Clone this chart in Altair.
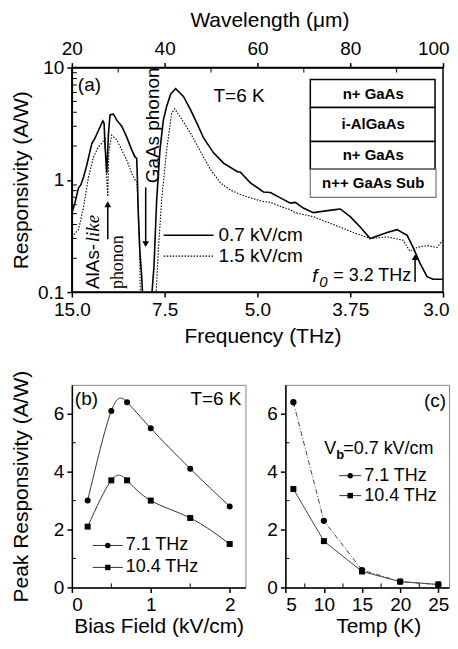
import altair as alt
import pandas as pd

# ---------------- data ----------------
# panel (a): responsivity vs wavelength (um); top axis wavelength, bottom axis frequency
lam_07 = [20.0, 20.65, 21.44, 21.94, 22.52, 23.23, 24.30, 25.01, 26.09, 26.67, 26.95, 27.16,
          27.53, 27.89, 28.24, 28.97, 29.68, 30.75, 31.83, 32.90, 33.61, 33.98, 34.13, 34.34,
          34.69, 35.05, 35.27, 35.48, 36.99, 37.20, 37.70, 38.28, 38.99, 39.72, 40.43, 41.29,
          42.37, 44.09, 45.59, 47.10, 48.39, 50.54, 52.69, 55.70, 56.34, 58.49, 61.29, 62.80,
          64.95, 67.10, 68.17, 69.89, 72.04, 76.34, 77.85, 80.00, 82.15, 84.30, 87.96, 90.11,
          92.26, 93.55, 95.05, 96.56, 97.85, 100.0]
resp_07 = [0.51, 0.62, 0.85, 0.90, 1.06, 1.36, 2.10, 2.36, 2.97, 3.35, 3.20, 1.97,
           1.15, 2.60, 3.80, 3.85, 3.40, 3.00, 2.40, 1.85, 1.60, 1.55, 1.00, 0.47,
           0.22, 0.14, 0.09, 0.06, 0.06, 0.09, 0.17, 0.66, 1.85, 3.40, 4.50, 5.80,
           6.50, 5.50, 4.20, 3.10, 2.36, 1.74, 1.41, 1.18, 1.17, 0.94, 0.78, 0.77,
           0.69, 0.62, 0.63, 0.56, 0.51, 0.54, 0.55, 0.47, 0.38, 0.30, 0.34, 0.36,
           0.32, 0.25, 0.18, 0.137, 0.13, 0.13]

lam_15 = [20.0, 21.44, 22.52, 23.59, 24.67, 25.74, 26.67, 27.16, 27.42, 27.74, 27.96, 28.60,
          29.68, 30.75, 31.83, 32.90, 33.61, 33.98, 34.34, 34.62, 34.84, 37.91, 38.17, 38.65,
          39.35, 40.43, 41.51, 42.15, 43.44, 45.59, 47.74, 49.89, 52.04, 54.19, 56.34, 58.49,
          61.29, 62.80, 64.95, 67.10, 68.17, 69.89, 72.04, 76.34, 80.65, 84.30, 87.96, 91.40,
          92.90, 94.41, 96.56, 98.71, 100.0]
resp_15 = [0.31, 0.36, 0.57, 1.06, 1.60, 1.97, 2.17, 2.40, 1.20, 0.71, 1.80, 2.50,
           2.27, 1.85, 1.50, 1.15, 1.00, 0.98, 0.54, 0.20, 0.06, 0.06, 0.10, 0.24,
           0.66, 1.85, 3.90, 4.30, 3.60, 2.60, 1.78, 1.23, 0.94, 0.81, 0.74, 0.69,
           0.64, 0.63, 0.58, 0.54, 0.51, 0.49, 0.47, 0.40, 0.34, 0.30, 0.31, 0.29,
           0.23, 0.25, 0.26, 0.25, 0.29]

wl_ticks = [20, 40, 60, 80, 100]
wl_minor = [30, 50, 70, 90]
freq_labels = ["15.0", "7.5", "5.0", "3.75", "3.0"]
r_ticks = [0.1, 1, 10]
r_minor = [0.2, 0.3, 0.4, 0.5, 0.6, 0.7, 0.8, 0.9, 2, 3, 4, 5, 6, 7, 8, 9]

layers = ["n+ GaAs", "i-AlGaAs", "n+ GaAs", "n++ GaAs Sub"]

# panel (b): peak responsivity vs bias field at T = 6 K
bias = [0.2, 0.5, 0.7, 1.0, 1.5, 2.0]
bias_71 = [3.0, 6.1, 6.4, 5.5, 4.1, 2.8]
bias_104 = [2.1, 3.7, 3.7, 3.0, 2.4, 1.5]
bias_ticks = [0, 1, 2]
bias_minor = [0.5, 1.5]

# panel (c): peak responsivity vs temperature at Vb = 0.7 kV/cm
temp = [6, 10, 15, 20, 25]
temp_71 = [6.4, 2.3, 0.6, 0.2, 0.1]
temp_104 = [3.4, 1.6, 0.55, 0.2, 0.1]
temp_ticks = [5, 10, 15, 20, 25]
temp_minor = [7.5, 12.5, 17.5, 22.5]

pk_ticks = [0, 2, 4, 6]
pk_minor = [1, 3, 5]

FONT = "Liberation Sans"


def note(text, x, y, size=19, align="left", baseline="middle", angle=0,
         style="normal", weight="normal", font=FONT):
    return alt.Chart(pd.DataFrame({"t": [text]})).mark_text(
        text=text, align=align, baseline=baseline, angle=angle, fontSize=size,
        fontStyle=style, fontWeight=weight, font=font, color="black"
    ).encode(x=alt.value(x), y=alt.value(y))


def seg(x1, y1, x2, y2, width=1.5, dash=None, color="black"):
    kw = dict(color=color, strokeWidth=width)
    if dash:
        kw["strokeDash"] = dash
    return alt.Chart(pd.DataFrame({"a": [0]})).mark_rule(**kw).encode(
        x=alt.value(x1), y=alt.value(y1), x2=alt.value(x2), y2=alt.value(y2))


def marker(x, y, shape, size=30):
    return alt.Chart(pd.DataFrame({"a": [0]})).mark_point(
        shape=shape, filled=True, size=size, color="black", opacity=1
    ).encode(x=alt.value(x), y=alt.value(y))


def arrow(x, y_tail, y_head):
    shape = "triangle-up" if y_head < y_tail else "triangle-down"
    return seg(x, y_tail, x, y_head, width=1.5) + marker(x, y_head, shape, size=45)


def box(x1, y1, x2, y2, stroke="black", width=1.5):
    return alt.Chart(pd.DataFrame({"a": [0]})).mark_rect(
        fill="white", stroke=stroke, strokeWidth=width
    ).encode(x=alt.value(x1), x2=alt.value(x2), y=alt.value(y1), y2=alt.value(y2))


def minor_y(vals, scale, length=4):
    return alt.Chart(pd.DataFrame({"v": vals})).mark_rule(color="black", strokeWidth=1).encode(
        y=alt.Y("v:Q", scale=scale, axis=None), x=alt.value(0), x2=alt.value(length))


def minor_x(vals, scale, y0, y1):
    return alt.Chart(pd.DataFrame({"v": vals})).mark_rule(color="black", strokeWidth=1).encode(
        x=alt.X("v:Q", scale=scale, axis=None), y=alt.value(y0), y2=alt.value(y1))


AX = dict(domainColor="black", domainWidth=1.5, tickColor="black", tickWidth=1.5,
          tickSize=5, labelFontSize=19, titleFontSize=21, labelColor="black",
          titleColor="black", titleFontWeight="normal", labelFont=FONT, titleFont=FONT,
          grid=False)

LAST_ALIGN = alt.condition("datum.value == 100", alt.value("right"), alt.value("center"))
LAST_OFF = alt.condition("datum.value == 100", alt.value(6), alt.value(0))

# ---------------- panel (a) ----------------
W_A, H_A = 372, 225
xs_a = alt.Scale(domain=[20, 100], nice=False, zero=False)
ys_a = alt.Scale(type="log", domain=[0.1, 10], nice=False)

freq_expr = " : ".join(
    f"datum.value == {w} ? '{f}'" for w, f in zip(wl_ticks, freq_labels)) + " : ''"

df07 = pd.DataFrame({"lam": lam_07, "r": resp_07})
df15 = pd.DataFrame({"lam": lam_15, "r": resp_15})

solid = alt.Chart(df07).mark_line(color="black", strokeWidth=1.6, clip=True).encode(
    x=alt.X("lam:Q", scale=xs_a, axis=alt.Axis(
        orient="bottom", values=wl_ticks, labelExpr=freq_expr, title="Frequency (THz)",
        labelPadding=3, titleX=191, titleY=45, titleBaseline="middle",
        labelAlign=LAST_ALIGN, labelOffset=LAST_OFF, **AX)),
    y=alt.Y("r:Q", scale=ys_a, axis=alt.Axis(
        orient="left", values=r_ticks, title="Responsivity (A/W)", labelPadding=3,
        labelExpr="datum.value < 1 ? format(datum.value, '.1f') : format(datum.value, 'd')",
        titleX=-50, titleY=H_A / 2, titleBaseline="middle", **AX)),
)
dotted = alt.Chart(df15).mark_line(color="black", strokeWidth=1.1, strokeDash=[1.5, 1.5],
                                   clip=True).encode(
    x=alt.X("lam:Q", scale=xs_a, axis=alt.Axis(
        orient="top", values=wl_ticks, format="d", title="Wavelength (μm)", labelPadding=4,
        titleX=198, titleY=-47, titleBaseline="middle",
        labelAlign=LAST_ALIGN, labelOffset=LAST_OFF, **AX)),
    y=alt.Y("r:Q", scale=ys_a, axis=None),
)

ann_a = [
    note("(a)", 6, 17),
    note("T=6 K", 142, 29),
    # layer stack
    box(239, 12, 364, 40), box(239, 40, 364, 74), box(239, 74, 364, 102),
    box(239, 102, 365, 130, stroke="#777777", width=1.2),
    note(layers[0], 302, 26, size=15, align="center", weight="bold"),
    note(layers[1], 302, 57, size=15, align="center", weight="bold"),
    note(layers[2], 302, 88, size=15, align="center", weight="bold"),
    note(layers[3], 302, 116, size=15, align="center", weight="bold"),
    # AlAs-like phonon
    note("AlAs-", 21, 222, angle=270),
    note("like", 21, 175, angle=270, style="italic", font="Liberation Serif"),
    note("phonon", 46, 222, size=18, angle=270, font="Liberation Serif"),
    arrow(36, 172, 137),
    # GaAs phonon
    note("GaAs phonon", 81, 116, angle=270),
    arrow(74, 120, 177),
    # legend
    seg(92, 168, 142, 168, width=1.6),
    seg(92, 189, 142, 189, width=1.1, dash=[1.5, 1.5]),
    note("0.7 kV/cm", 147, 168),
    note("1.5 kV/cm", 147, 189),
    # f0
    note("f", 241, 209, style="italic"),
    note("0", 248, 215, size=15, style="italic"),
    note("= 3.2 THz", 262, 209, size=18),
    arrow(344, 215, 190),
]

panel_a = alt.layer(solid, dotted, minor_y(r_minor, ys_a, 5), minor_x(wl_minor, xs_a, 0, 5),
                    *ann_a).properties(
    width=W_A, height=H_A,
    view=alt.ViewBackground(stroke="black", strokeWidth=1.5)
).resolve_axis(x="independent", y="independent")

# ---------------- panel (b) ----------------
W_B, H_B = 174, 203
xs_b = alt.Scale(domain=[0, 2.2], nice=False, zero=False)
ys_pk = alt.Scale(domain=[0, 7], nice=False)

dfb = pd.DataFrame({"bias": bias * 2, "r": bias_71 + bias_104,
                    "s": ["7.1 THz"] * len(bias) + ["10.4 THz"] * len(bias)})

line_b = alt.Chart(dfb).mark_line(color="#333333", strokeWidth=1, interpolate="natural").encode(
    x=alt.X("bias:Q", scale=xs_b, axis=alt.Axis(
        orient="bottom", values=bias_ticks, format="d", title="Bias Field (kV/cm)",
        labelPadding=3, titleX=W_B / 2, titleY=39, titleBaseline="middle", **AX)),
    y=alt.Y("r:Q", scale=ys_pk, axis=alt.Axis(
        orient="left", values=pk_ticks, format="d", title="Peak Responsivity (A/W)",
        labelPadding=3, titleX=-50, titleY=H_B / 2, titleBaseline="middle", **AX)),
    detail="s:N",
)
pts_b = alt.Chart(dfb).mark_point(filled=True, color="black", opacity=1, size=36).encode(
    x=alt.X("bias:Q", scale=xs_b, axis=None),
    y=alt.Y("r:Q", scale=ys_pk, axis=None),
    shape=alt.Shape("s:N", scale=alt.Scale(domain=["7.1 THz", "10.4 THz"],
                                           range=["circle", "square"]), legend=None),
)

ann_b = [
    note("(b)", 3, 14),
    note("T=6 K", 170, 14, align="right"),
    seg(21, 161, 51, 161, width=1, color="#333333"), marker(36, 161, "circle", 30),
    seg(21, 183, 51, 183, width=1, color="#333333"), marker(36, 183, "square", 30),
    note("7.1 THz", 54, 161, size=18),
    note("10.4 THz", 54, 183, size=18),
]
panel_b = alt.layer(line_b, pts_b, minor_y(pk_minor, ys_pk), minor_x(bias_minor, xs_b, H_B - 4, H_B),
                    *ann_b).properties(
    width=W_B, height=H_B,
    view=alt.ViewBackground(stroke="#888888", strokeWidth=1)
).resolve_axis(x="independent", y="independent")

# ---------------- panel (c) ----------------
W_C, H_C = 164, 203
xs_c = alt.Scale(domain=[4.95, 26.4], nice=False, zero=False)

dfc71 = pd.DataFrame({"T": temp, "r": temp_71})
dfc104 = pd.DataFrame({"T": temp, "r": temp_104})

line_c71 = alt.Chart(dfc71).mark_line(color="#444444", strokeWidth=1, strokeDash=[5, 2, 1, 2]).encode(
    x=alt.X("T:Q", scale=xs_c, axis=alt.Axis(
        orient="bottom", values=temp_ticks, format="d", title="Temp (K)",
        labelPadding=3, titleX=93, titleY=39, titleBaseline="middle", **AX)),
    y=alt.Y("r:Q", scale=ys_pk, axis=alt.Axis(
        orient="left", values=pk_ticks, format="d", title=None, labelPadding=3, **AX)),
)
line_c104 = alt.Chart(dfc104).mark_line(color="#444444", strokeWidth=1).encode(
    x=alt.X("T:Q", scale=xs_c, axis=None), y=alt.Y("r:Q", scale=ys_pk, axis=None))
pts_c104 = alt.Chart(dfc104).mark_point(shape="square", filled=True, color="black",
                                        opacity=1, size=36).encode(
    x=alt.X("T:Q", scale=xs_c, axis=None), y=alt.Y("r:Q", scale=ys_pk, axis=None))
pts_c71 = alt.Chart(dfc71).mark_point(shape="circle", filled=True, color="black",
                                      opacity=1, size=40).encode(
    x=alt.X("T:Q", scale=xs_c, axis=None), y=alt.Y("r:Q", scale=ys_pk, axis=None))

ann_c = [
    note("(c)", 161, 16, align="right"),
    note("V", 39, 64, size=18),
    note("b", 51, 70, size=13, weight="bold"),
    note("=0.7 kV/cm", 58, 64, size=18),
    seg(54, 91, 76, 91, width=1, color="#333333"), marker(65, 91, "circle", 30),
    seg(54, 111, 76, 111, width=1, color="#333333"), marker(65, 111, "square", 30),
    note("7.1 THz", 79, 91, size=18),
    note("10.4 THz", 79, 111, size=18),
]
panel_c = alt.layer(line_c71, line_c104, pts_c104, pts_c71, minor_y(pk_minor, ys_pk),
                    minor_x(temp_minor, xs_c, H_C - 4, H_C), *ann_c).properties(
    width=W_C, height=H_C,
    view=alt.ViewBackground(stroke="#888888", strokeWidth=1)
).resolve_axis(x="independent", y="independent")

bottom = alt.hconcat(panel_b, panel_c, spacing=40, bounds="flush")
chart = alt.vconcat(panel_a, bottom, spacing=93, bounds="flush").configure(
    padding={"left": 2, "top": 0, "right": 0, "bottom": 0},
    font=FONT,
    background="white",
)

chart.save("out.html", embed_options={"renderer": "svg", "actions": False})
